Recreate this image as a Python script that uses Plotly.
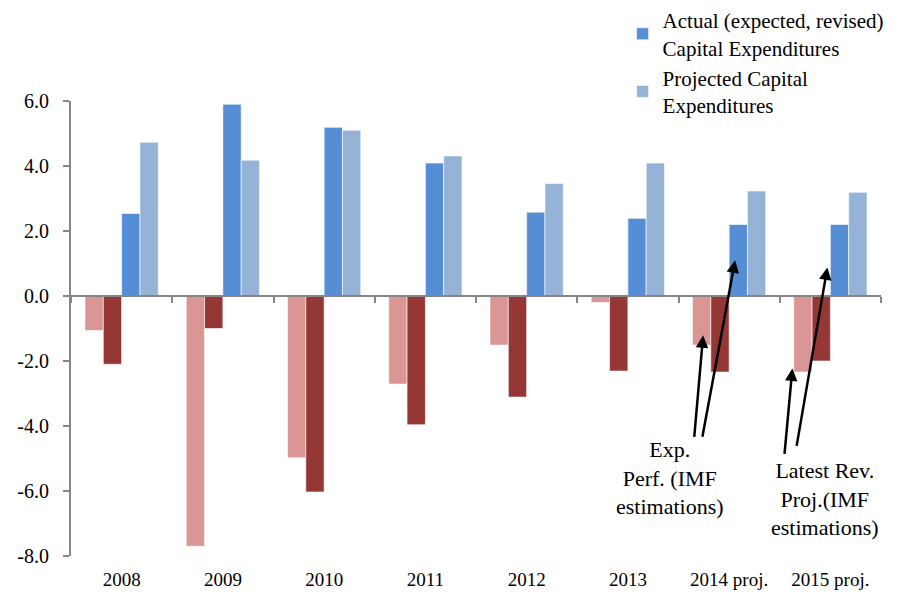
import plotly.graph_objects as go

categories = ["2008", "2009", "2010", "2011", "2012", "2013", "2014 proj.", "2015 proj."]
projected_balance = [-1.06, -7.70, -4.98, -2.71, -1.51, -0.20, -1.51, -2.34]
actual_balance = [-2.10, -1.00, -6.03, -3.96, -3.11, -2.31, -2.34, -2.00]
actual_capex = [2.54, 5.90, 5.19, 4.09, 2.58, 2.39, 2.20, 2.20]
projected_capex = [4.73, 4.18, 5.10, 4.31, 3.46, 4.09, 3.23, 3.19]
ytick_vals = [-8, -6, -4, -2, 0, 2, 4, 6]
ytick_text = ["-8.0", "-6.0", "-4.0", "-2.0", "0.0", "2.0", "4.0", "6.0"]

FONT = "Liberation Serif, DejaVu Serif, serif"
AXIS_COLOR = "#868686"

fig = go.Figure()
fig.add_trace(go.Bar(x=categories, y=projected_balance, name="Projected Balance",
                     marker=dict(color="#D99694", line=dict(color="white", width=0.6)),
                     showlegend=False))
fig.add_trace(go.Bar(x=categories, y=actual_balance, name="Actual Balance",
                     marker=dict(color="#953735", line=dict(color="white", width=0.6)),
                     showlegend=False))
fig.add_trace(go.Bar(x=categories, y=actual_capex,
                     name="Actual (expected, revised)<br>Capital Expenditures",
                     marker=dict(color="#558ED5", line=dict(color="white", width=0.6))))
fig.add_trace(go.Bar(x=categories, y=projected_capex,
                     name="Projected Capital<br>Expenditures",
                     marker=dict(color="#95B3D7", line=dict(color="white", width=0.6))))
# invisible helper trace to carry the zero-line axis categories
fig.add_trace(go.Scatter(x=categories, y=[0] * len(categories), xaxis="x2", mode="markers",
                         marker=dict(opacity=0), showlegend=False, hoverinfo="skip"))

annotations = []
arrow_style = dict(showarrow=True, arrowhead=2, arrowsize=1, arrowwidth=2.5,
                   arrowcolor="black", text="", axref="pixel", ayref="pixel")
annotations.append(dict(x="2014 proj.", y=-1.21, xshift=-26, ax=-9, ay=103, **arrow_style))
annotations.append(dict(x="2014 proj.", y=1.10, xshift=6, ax=-33, ay=178, **arrow_style))
annotations.append(dict(x="2015 proj.", y=-2.23, xshift=-38, ax=-8, ay=87, **arrow_style))
annotations.append(dict(x="2015 proj.", y=0.88, xshift=-3, ax=-31, ay=180, **arrow_style))
annotations.append(dict(x="2014 proj.", y=-5.59, xshift=-59, showarrow=False,
                        text="Exp.<br>Perf. (IMF<br>estimations)", align="center",
                        font=dict(family=FONT, size=22, color="black")))
annotations.append(dict(x="2015 proj.", y=-6.25, xshift=-5, showarrow=False,
                        text="Latest Rev.<br>Proj.(IMF<br>estimations)", align="center",
                        font=dict(family=FONT, size=22, color="black")))

# page body has an 8px default margin: size the figure so the plot lands where the reference has it
fig.update_layout(
    width=907, height=584,
    margin=dict(l=63, r=34, t=93, b=36, autoexpand=False),
    plot_bgcolor="white", paper_bgcolor="white",
    barmode="group", bargap=0.276, bargroupgap=0,
    font=dict(family=FONT, size=20, color="black"),
    xaxis=dict(type="category", range=[-0.5, 7.5], showline=False, ticks="",
               showgrid=False, zeroline=False, ticklabelstandoff=10,
               tickfont=dict(family=FONT, size=19)),
    xaxis2=dict(type="category", overlaying="x", anchor="free", position=8 / 14,
                range=[-0.5, 7.5], showline=True, linecolor=AXIS_COLOR, linewidth=2,
                ticks="outside", tickson="boundaries", ticklen=6, tickcolor=AXIS_COLOR,
                tickwidth=1.5, showticklabels=False, showgrid=False, zeroline=False),
    yaxis=dict(range=[-8, 6], tickvals=ytick_vals, ticktext=ytick_text,
               showline=True, linecolor=AXIS_COLOR, linewidth=2, ticks="outside",
               ticklen=6, tickcolor=AXIS_COLOR, tickwidth=1.5, showgrid=False,
               zeroline=False, ticklabelstandoff=10,
               tickfont=dict(family=FONT, size=20)),
    legend=dict(x=0.681, y=1.222, xanchor="left", yanchor="top",
                font=dict(family=FONT, size=21), bgcolor="rgba(0,0,0,0)",
                tracegroupgap=6),
    annotations=annotations,
)

fig.write_html("out.html")
